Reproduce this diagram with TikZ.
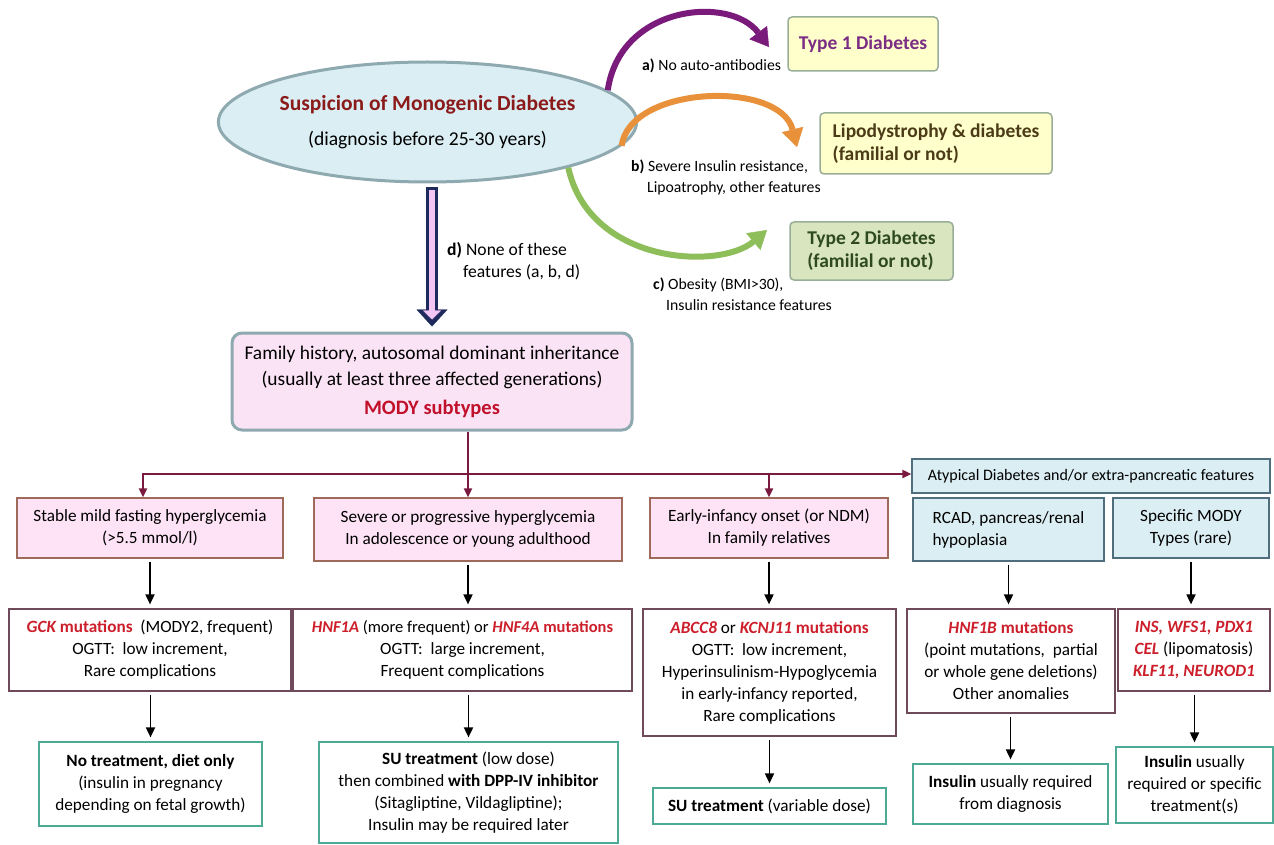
\documentclass[tikz,border=0pt]{standalone}
\usepackage{fontspec}
\setmainfont{Carlito}
\usetikzlibrary{arrows.meta,shapes.geometric}

\definecolor{ellfill}{HTML}{DAEEF3}
\definecolor{ellline}{HTML}{8EA9AF}
\definecolor{titlered}{HTML}{8B1A1A}
\definecolor{famfill}{HTML}{FBE3F6}
\definecolor{modyred}{HTML}{C0102A}
\definecolor{pinkfill}{HTML}{FDE3F5}
\definecolor{pinkline}{HTML}{9E6A5A}
\definecolor{bluefill}{HTML}{DBEEF3}
\definecolor{blueline}{HTML}{4F6F7F}
\definecolor{geneline}{HTML}{6E4A5A}
\definecolor{genered}{HTML}{CC1F2B}
\definecolor{treatline}{HTML}{4DAA95}
\definecolor{maroonln}{HTML}{7A1A3F}
\definecolor{navyln}{HTML}{1F2A5C}
\definecolor{pinkin}{HTML}{F2C6F2}
\definecolor{yelfill}{HTML}{FFFFCC}
\definecolor{grnfill}{HTML}{D8E5BE}
\definecolor{typeline}{HTML}{98AE98}
\definecolor{purptxt}{HTML}{7B2C83}
\definecolor{browntxt}{HTML}{4B3B17}
\definecolor{grntxt}{HTML}{2E4A1E}
\definecolor{purparr}{HTML}{7A1A7A}
\definecolor{orngarr}{HTML}{E8913A}
\definecolor{grnarr}{HTML}{8DBE5A}

\newcommand{\gene}[1]{{\color{genered}\bfseries\itshape #1}}
\newcommand{\mut}[1]{{\color{genered}\bfseries #1}}

\begin{document}
\begin{tikzpicture}[x=1pt,y=-1pt,
    font=\fontsize{17.2}{22}\selectfont,
    boxsize/.style 2 args={minimum width=#1, minimum height=#2},
    pinkbox/.style={draw=pinkline, fill=pinkfill, line width=1.2pt, align=center, inner sep=0pt},
    bluebox/.style={draw=blueline, fill=bluefill, line width=1.2pt, align=center, inner sep=0pt},
    genebox/.style={draw=geneline, fill=white, line width=1.2pt, align=center, inner sep=0pt},
    treatbox/.style={draw=treatline, fill=white, line width=1.2pt, align=center, inner sep=0pt},
    typebox/.style={draw=typeline, fill=yelfill, line width=1.5pt, rounded corners=4pt, inner sep=0pt,
      font=\fontsize{19.5}{23}\selectfont\bfseries},
    lbl/.style={anchor=west, inner sep=0pt, align=left, font=\fontsize{15.7}{21}\selectfont},
    blk/.style={line width=1.8pt, -{Triangle[length=10pt,width=9pt]}, shorten <=3pt, shorten >=4pt},
    mar/.style={draw=maroonln, line width=1.8pt},
    martip/.style={-{Triangle[length=9pt,width=8pt]}},
    curvy/.style={line width=6pt, -{Triangle[length=18pt,width=22pt,line width=0.4pt]}},
    dblout/.style={draw=navyln, line width=12pt, shorten <=4pt, shorten >=5pt,
      -{Triangle[length=17pt,width=31pt,line width=0.4pt]}},
    dblin/.style={draw=pinkin, line width=6pt, shorten <=7pt, shorten >=12pt,
      -{Triangle[length=9pt,width=18pt,line width=0.4pt]}}
  ]
  \useasboundingbox[fill=white] (0,0) rectangle (1274,845);

  % suspicion and the three other diagnoses
  \node[ellipse, draw=ellline, fill=ellfill, line width=3pt, boxsize={411}{120}, inner sep=0pt,
        align=center, font=\fontsize{19.6}{35}\selectfont] (ell) at (427.5,122)
    {{\fontsize{21.5}{35}\selectfont\bfseries\color{titlered}Suspicion of Monogenic Diabetes}\\(diagnosis before 25-30 years)};

  \node[typebox, boxsize={150}{54}, text=purptxt] (t1d) at (863,44) {Type 1 Diabetes};
  \node[typebox, boxsize={232}{61}, text=browntxt, align=left] (lipo) at (936,143.5)
    {Lipodystrophy \& diabetes\\(familial or not)};
  \node[typebox, boxsize={163}{58}, fill=grnfill, text=grntxt, align=left] (t2d) at (871.5,251)
    {Type 2 Diabetes\\(familial or not)};

  \node[lbl] (la) at (642,66) {\textbf{a)} No auto-antibodies};
  \node[lbl] (lb) at (631,177.5) {\textbf{b)} Severe Insulin resistance,\\\hspace*{16pt}Lipoatrophy, other features};
  \node[lbl] (lc) at (653,294.5) {\textbf{c)} Obesity (BMI>30),\\\hspace*{13pt}Insulin resistance features};
  \node[lbl, font=\fontsize{17.6}{22}\selectfont] (ld) at (447,261)
    {\textbf{d)} None of these\\\hspace*{16pt}features (a, b, d)};

  \coordinate (aTip) at (769,47);
  \coordinate (bTip) at (797,147);
  \coordinate (cTip) at (767,230);
  \draw[curvy, purparr] (ell.10) .. controls (620,5) and (730,-5) .. (aTip);
  \draw[curvy, orngarr] (ell.-7) .. controls (630,85) and (780,80) .. (bTip);
  \draw[curvy, grnarr] (ell.-18) .. controls (590,265) and (720,270) .. (cTip);

  % family history
  \node[draw=ellline, fill=famfill, line width=3pt, rounded corners=10pt, boxsize={400}{97},
        inner sep=0pt, align=center, font=\fontsize{19.4}{26}\selectfont] (fam) at (432,381.5)
    {Family history, autosomal dominant inheritance\\(usually at least three affected generations)\\[3pt]
     {\fontsize{20.5}{26}\selectfont\bfseries\color{modyred}MODY subtypes}};

  \draw[dblout] (ell.south -| fam.north) -- (fam.north);
  \draw[dblin] (ell.south -| fam.north) -- (fam.north);

  % clinical presentation
  \node[pinkbox, boxsize={266}{60}] (s1) at (150,528)
    {Stable mild fasting\ hyperglycemia\\(>5.5 mmol/l)};
  \node[pinkbox, boxsize={308}{63}] (s2) at (468,529.5)
    {Severe or progressive hyperglycemia\\In adolescence or young adulthood};
  \node[pinkbox, boxsize={238}{60}] (s3) at (769,528)
    {Early-infancy onset (or NDM)\\In family relatives};
  \node[bluebox, boxsize={358}{34}, font=\fontsize{16}{20}\selectfont] (atyp) at (1091,476)
    {Atypical Diabetes and/or extra-pancreatic features};
  \node[bluebox, boxsize={191}{63}, align=left] (rcad) at (1008.5,529.5)
    {RCAD, pancreas/renal\\hypoplasia};
  \node[bluebox, boxsize={156}{60}] (spec) at (1191,528)
    {Specific MODY\\Types (rare)};

  % genes
  \node[genebox, boxsize={282}{82}] (g1) at (150,650)
    {\gene{GCK} \mut{mutations}\ \ (MODY2, frequent)\\OGTT:\ \ low increment,\\Rare complications};
  \node[genebox, boxsize={339}{82}] (g2) at (462.5,650)
    {{\fontsize{16.5}{22}\selectfont\gene{HNF1A} (more frequent) or \gene{HNF4A} \mut{mutations}}\\OGTT:\ \ large increment,\\Frequent complications};
  \node[genebox, boxsize={253}{127}] (g3) at (769.5,672.5)
    {\gene{ABCC8} or \gene{KCNJ11} \mut{mutations}\\OGTT:\ \ low increment,\\Hyperinsulinism-Hypoglycemia\\in early-infancy reported,\\Rare complications};
  \node[genebox, boxsize={208}{104}] (g4) at (1011,661)
    {\gene{HNF1B} \mut{mutations}\\(point mutations,\ \ partial\\or whole gene deletions)\\Other anomalies};
  \node[genebox, boxsize={152}{82}] (g5) at (1194,650)
    {\gene{INS, WFS1, PDX1}\\\gene{CEL} (lipomatosis)\\\gene{KLF11, NEUROD1}};

  % treatment
  \node[treatbox, boxsize={223}{84}] (t1) at (150.5,784)
    {\textbf{No treatment, diet only}\\(insulin in pregnancy\\depending on fetal growth)};
  \node[treatbox, boxsize={299}{101}] (t2) at (468.5,792.5)
    {\textbf{SU treatment} (low dose)\\then combined \textbf{with DPP-IV inhibitor}\\(Sitagliptine, Vildagliptine);\\Insulin may be required later};
  \node[treatbox, boxsize={233}{36}] (t3) at (769.5,806)
    {\textbf{SU treatment} (variable dose)};
  \node[treatbox, boxsize={195}{60}] (t4) at (1010.5,794)
    {\textbf{Insulin} usually required\\from diagnosis};
  \node[treatbox, boxsize={157}{76}] (t5) at (1194.5,785)
    {\textbf{Insulin} usually\\required or specific\\treatment(s)};

  % maroon tree
  \coordinate (hl) at (143,474);
  \draw[mar, martip] (fam.south -| s2.north) -- (s2.north);
  \draw[mar, {Triangle[length=9pt,width=8pt]}-{Triangle[length=9pt,width=8pt]}]
    (hl |- s1.north) -- (hl) -- (atyp.west |- hl);
  \draw[mar, martip] (s3.north |- hl) -- (s3.north);

  % black arrows
  \foreach \a/\b in {s1/g1,s2/g2,s3/g3,rcad/g4,spec/g5}{
      \draw[blk] (\a.south) -- (\a.south |- \b.north);
    }
  \foreach \a/\b in {g1/t1,g2/t2,g3/t3,g4/t4,g5/t5}{
      \draw[blk] (\b.north |- \a.south) -- (\b.north);
    }

\end{tikzpicture}
\end{document}
